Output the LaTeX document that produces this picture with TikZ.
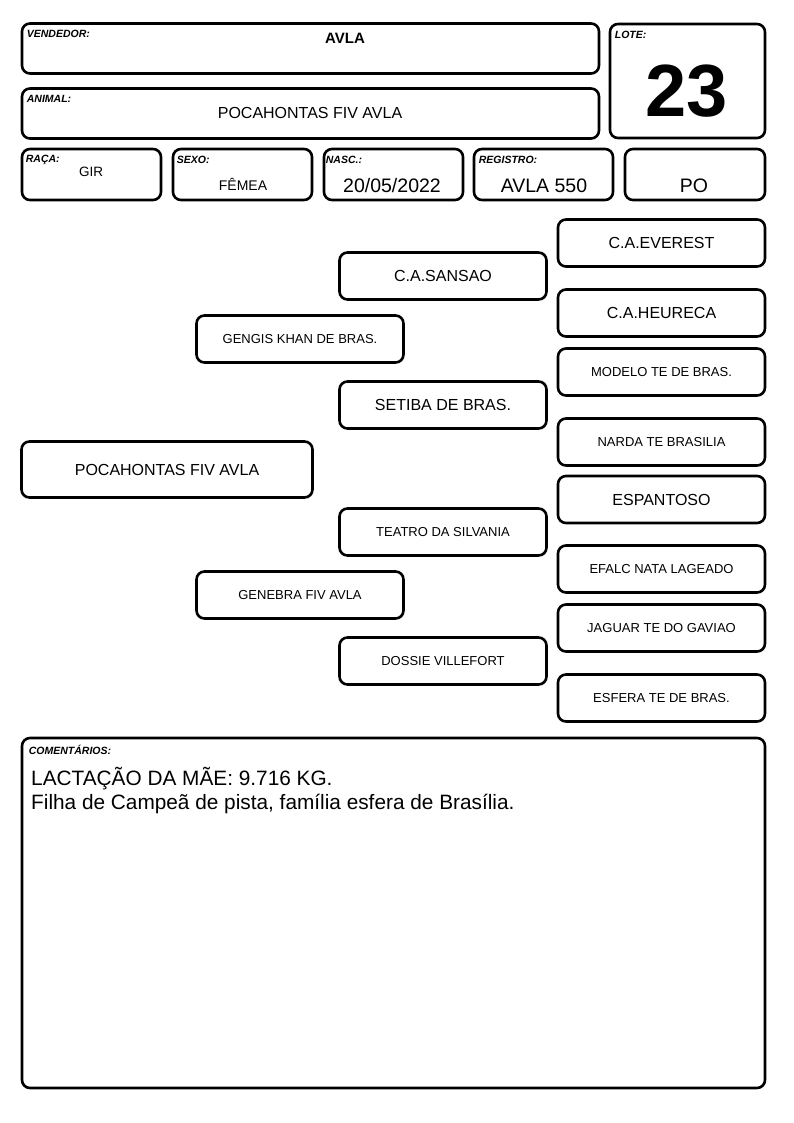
\documentclass[tikz,border=0pt]{standalone}
\usepackage{fontspec}
\setmainfont{Liberation Sans}
\usetikzlibrary{positioning}

\begin{document}
\begin{tikzpicture}[x=1pt, y=-1pt,
  caixa/.style={draw, line width=2.6pt, rounded corners=8pt, inner sep=0pt},
  rotulo/.style={anchor=north west, inner sep=0pt, font=\fontsize{10.5}{12}\selectfont\bfseries\itshape},
  ped/.style={caixa, minimum width=207pt, minimum height=47pt, font=\fontsize{13}{15}\selectfont},
  pedg/.style={ped, font=\fontsize{16}{18}\selectfont}]
\useasboundingbox (0,0) rectangle (794,1123);

% cabecalho
\node[caixa, minimum width=577pt, minimum height=50pt] (vendedor) at (310.5,48.5) {};
\node[rotulo] (vendedorrot) at ([shift={(6,8)}]vendedor.north west) {VENDEDOR:};
\node[font=\fontsize{15}{16}\selectfont\bfseries] (vendedorval) at (345,38) {AVLA};
\node[caixa, minimum width=577pt, minimum height=50pt] (animal) at (310.5,113.5) {};
\node[rotulo] (animalrot) at ([shift={(6,8)}]animal.north west) {ANIMAL:};
\node[font=\fontsize{16}{18}\selectfont] (animalval) at (310,113) {POCAHONTAS FIV AVLA};
\node[caixa, minimum width=155pt, minimum height=114pt] (lote) at (687.5,81) {};
\node[rotulo] (loterot) at ([shift={(6,8)}]lote.north west) {LOTE:};
\node[font=\fontsize{74}{76}\selectfont\bfseries] (loteval) at (687,91.5) {23};

\node[caixa, minimum width=139pt, minimum height=51pt] (raca) at (91.5,174.5) {};
\node[rotulo] (racarot) at ([shift={(5,7)}]raca.north west) {RAÇA:};
\node[font=\fontsize{13.5}{15}\selectfont] (racaval) at (91,172) {GIR};
\node[caixa, minimum width=139pt, minimum height=51pt] (sexo) at (242.5,174.5) {};
\node[rotulo] (sexorot) at ([shift={(5,8)}]sexo.north west) {SEXO:};
\node[font=\fontsize{14}{16}\selectfont] (sexoval) at (243,184) {FÊMEA};
\node[caixa, minimum width=139pt, minimum height=51pt] (nasc) at (393.5,174.5) {};
\node[rotulo] (nascrot) at ([shift={(3,8)}]nasc.north west) {NASC.:};
\node[font=\fontsize{19.5}{21}\selectfont] (nascval) at (392,186) {20/05/2022};
\node[caixa, minimum width=139pt, minimum height=51pt] (registro) at (543.5,174.5) {};
\node[rotulo] (registrorot) at ([shift={(6,8)}]registro.north west) {REGISTRO:};
\node[font=\fontsize{19.5}{21}\selectfont] (registroval) at (544,186) {AVLA 550};
\node[caixa, minimum width=140pt, minimum height=51pt] (po) at (695,174.5) {};
\node[font=\fontsize{19.5}{21}\selectfont] (poval) at (694,186) {PO};

% genealogia
\node[caixa, minimum width=291pt, minimum height=56pt, font=\fontsize{16}{18}\selectfont] (animalped) at (167,469.5) {POCAHONTAS FIV AVLA};

\node[ped] (pai) at (300,339) {GENGIS KHAN DE BRAS.};
\node[ped] (mae) at (300,595) {GENEBRA FIV AVLA};

\node[pedg] (avopp) at (443,276) {C.A.SANSAO};
\node[pedg] (avopm) at (443,405) {SETIBA DE BRAS.};
\node[ped] (avomp) at (443,532) {TEATRO DA SILVANIA};
\node[ped] (avomm) at (443,661) {DOSSIE VILLEFORT};

\node[pedg] (bisa1) at (661.5,243) {C.A.EVEREST};
\node[pedg] (bisa2) at (661.5,313) {C.A.HEURECA};
\node[ped] (bisa3) at (661.5,372) {MODELO TE DE BRAS.};
\node[ped] (bisa4) at (661.5,442) {NARDA TE BRASILIA};
\node[pedg] (bisa5) at (661.5,499.5) {ESPANTOSO};
\node[ped] (bisa6) at (661.5,569) {EFALC NATA LAGEADO};
\node[ped] (bisa7) at (661.5,628) {JAGUAR TE DO GAVIAO};
\node[ped] (bisa8) at (661.5,698) {ESFERA TE DE BRAS.};

% comentarios
\node[caixa, minimum width=743pt, minimum height=350pt] (coment) at (393.5,913) {};
\node[rotulo] (comentrot) at ([shift={(8,8)}]coment.north west) {COMENTÁRIOS:};
\node[anchor=north west, inner sep=0pt, align=left, font=\fontsize{20.8}{24}\selectfont] (comenttxt) at (31,767)
  {LACTAÇÃO DA MÃE: 9.716 KG.\\Filha de Campeã de pista, família esfera de Brasília.};
\end{tikzpicture}
\end{document}
